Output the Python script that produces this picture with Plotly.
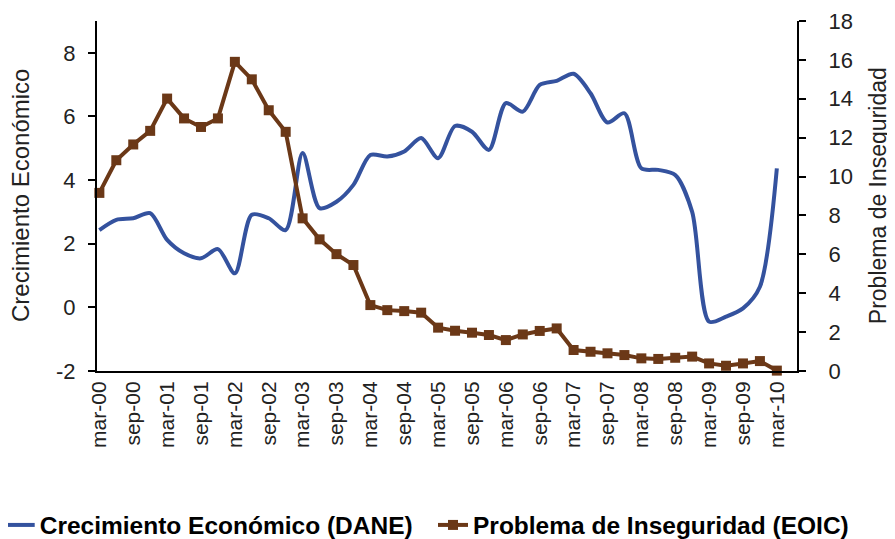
import plotly.graph_objects as go

# quarterly series, mar-00 .. mar-10
quarters = [f"{m}-{y:02d}" for y in range(0, 11) for m in ("mar", "jun", "sep", "dic")][:41]

crecimiento = [2.43, 2.75, 2.80, 2.96, 2.12, 1.70, 1.54, 1.83, 1.07, 2.91,
               2.80, 2.43, 4.85, 3.12, 3.32, 3.85, 4.79, 4.74, 4.90, 5.32,
               4.69, 5.70, 5.52, 4.95, 6.42, 6.15, 6.99, 7.12, 7.34, 6.73,
               5.81, 6.10, 4.37, 4.32, 4.16, 3.00, -0.45, -0.29, -0.03, 0.65,
               4.37]

inseguridad = [9.16, 10.84, 11.65, 12.35, 14.01, 12.99, 12.55, 12.99, 15.90, 15.00,
               13.41, 12.30, 7.85, 6.77, 6.01, 5.45, 3.39, 3.13, 3.08, 3.00,
               2.23, 2.07, 1.97, 1.85, 1.59, 1.88, 2.06, 2.19, 1.08, 0.99,
               0.91, 0.82, 0.65, 0.62, 0.68, 0.74, 0.39, 0.27, 0.39, 0.51,
               0.02]

left_ticks = [-2, 0, 2, 4, 6, 8]

x = list(range(len(quarters)))
tick_idx = x[::2]
tick_txt = [quarters[i] for i in tick_idx]

BLUE = "#34529E"
BROWN = "#6B3817"
FONT = "Liberation Sans, Arial, sans-serif"

fig = go.Figure()

fig.add_trace(go.Scatter(
    x=x, y=crecimiento,
    mode="lines",
    line=dict(color=BLUE, width=4, shape="spline", smoothing=0.8),
    name="Crecimiento Económico (DANE)",
    legend="legend",
))

fig.add_trace(go.Scatter(
    x=x, y=inseguridad,
    mode="lines+markers",
    line=dict(color=BROWN, width=4),
    marker=dict(symbol="square", size=10, color=BROWN),
    name="Problema de Inseguridad (EOIC)",
    yaxis="y2",
    cliponaxis=False,
    legend="legend2",
))

legend_font = dict(size=24.5, color="black", family=FONT, weight="bold")

# page body adds an 8px offset, so the margins are shifted back by 8px
fig.update_layout(
    width=895, height=539,
    margin=dict(l=89, r=106, t=13, b=176, autoexpand=False),
    paper_bgcolor="white",
    plot_bgcolor="white",
    font=dict(family=FONT, size=20, color="#222"),
    xaxis=dict(
        range=[-0.14, 41.19],
        tickmode="array", tickvals=tick_idx, ticktext=tick_txt,
        tickangle=-90, ticks="",
        showgrid=False, zeroline=False, automargin=False,
        showline=True, linecolor="black", linewidth=2,
        tickfont=dict(size=21),
    ),
    yaxis=dict(
        range=[-2, 9],
        tickmode="array", tickvals=left_ticks, ticktext=[str(v) for v in left_ticks],
        ticks="outside", ticklen=7, tickwidth=2, tickcolor="black",
        ticklabelstandoff=8,
        showgrid=False, zeroline=False, automargin=False,
        showline=True, linecolor="black", linewidth=2,
        tickfont=dict(size=22),
    ),
    yaxis2=dict(
        range=[0, 18], dtick=2,
        overlaying="y", side="right",
        ticks="outside", ticklen=7, tickwidth=2, tickcolor="black",
        ticklabelstandoff=18,
        showgrid=False, zeroline=False, automargin=False,
        showline=True, linecolor="black", linewidth=2,
        tickfont=dict(size=22),
    ),
    showlegend=True,
    legend=dict(
        orientation="h", x=-0.139, xanchor="left",
        y=-0.44, yanchor="middle",
        font=legend_font, itemwidth=30, bgcolor="rgba(0,0,0,0)",
    ),
    legend2=dict(
        orientation="h", x=0.48, xanchor="left",
        y=-0.44, yanchor="middle",
        font=legend_font, itemwidth=30, bgcolor="rgba(0,0,0,0)",
    ),
    annotations=[
        dict(text="Crecimiento Económico", xref="paper", yref="paper",
             x=-0.11, y=0.5, xanchor="center", yanchor="middle",
             textangle=-90, showarrow=False, font=dict(size=24)),
        dict(text="Problema de Inseguridad", xref="paper", yref="paper",
             x=1.116, y=0.5, xanchor="center", yanchor="middle",
             textangle=-90, showarrow=False, font=dict(size=23)),
    ],
)

fig.write_html("out.html")
